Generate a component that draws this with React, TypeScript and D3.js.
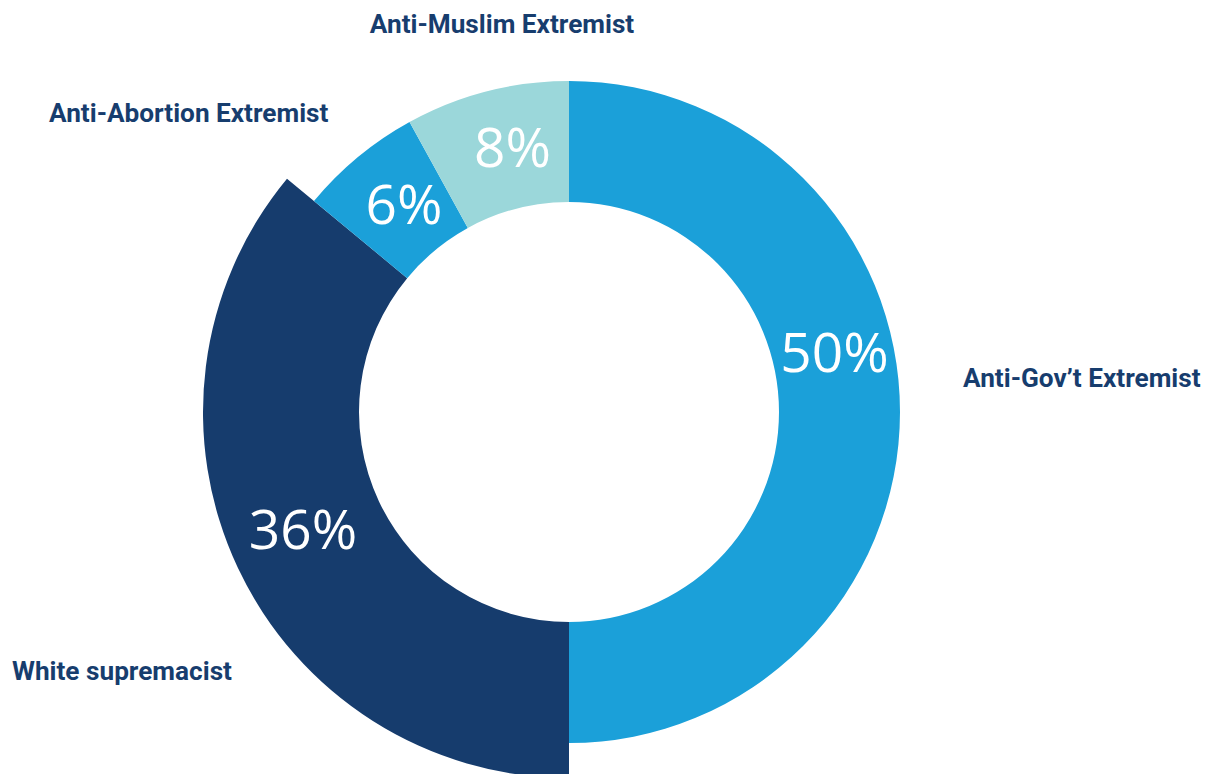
import * as d3 from "d3";

const categories = ["Anti-Gov’t Extremist", "White supremacist", "Anti-Abortion Extremist", "Anti-Muslim Extremist"];
const values = [50, 36, 6, 8];
const colors = ["#1ba0d9", "#163c6d", "#1ba0d9", "#9bd7da"];
// where along each slice the % label sits (0 = start, 1 = end)
const labelPos = [0.43, 0.51, 0.55, 0.58];
const labelRadius = [272, 291, 265, 270];
const explode = [false, true, false, false];

const W = 1216, H = 774;
const cx = 569, cy = 412;
const rInner = 210, rOuter = 331, rBig = 366;

// category label anchors: [dx, dy from center, text-anchor]
const catPos: [number, number, string][] = [
  [394, -25, "start"],
  [-557, 268, "start"],
  [-520, -290, "start"],
  [-67, -379, "middle"],
];

export default function App() {
  const pie = d3.pie<number>().sort(null).value((d) => d);
  const arcs = pie(values);
  const arc = d3.arc<d3.PieArcDatum<number>>().innerRadius(rInner);

  return (
    <svg width={W} height={H} style={{ position: "absolute", left: 0, top: 0 }}>
      <g transform={`translate(${cx},${cy})`}>
        {arcs.map((a, i) => (
          <path key={i} d={arc.outerRadius(explode[i] ? rBig : rOuter)(a) || ""} fill={colors[i]} />
        ))}
        {arcs.map((a, i) => {
          const ang = a.startAngle + (a.endAngle - a.startAngle) * labelPos[i];
          const x = Math.sin(ang) * labelRadius[i];
          const y = -Math.cos(ang) * labelRadius[i];
          return (
            <text key={i} x={x} y={y} dy="0.35em" textAnchor="middle" fill="#fff"
              fontFamily="'Open Sans', sans-serif" fontWeight={400} fontSize={55}>
              {values[i]}%
            </text>
          );
        })}
        {categories.map((c, i) => (
          <text key={c} x={catPos[i][0]} y={catPos[i][1]} textAnchor={catPos[i][2]} fill="#173d6e"
            fontFamily="Roboto, sans-serif" fontWeight={700} fontSize={26.2}>
            {c}
          </text>
        ))}
      </g>
    </svg>
  );
}
